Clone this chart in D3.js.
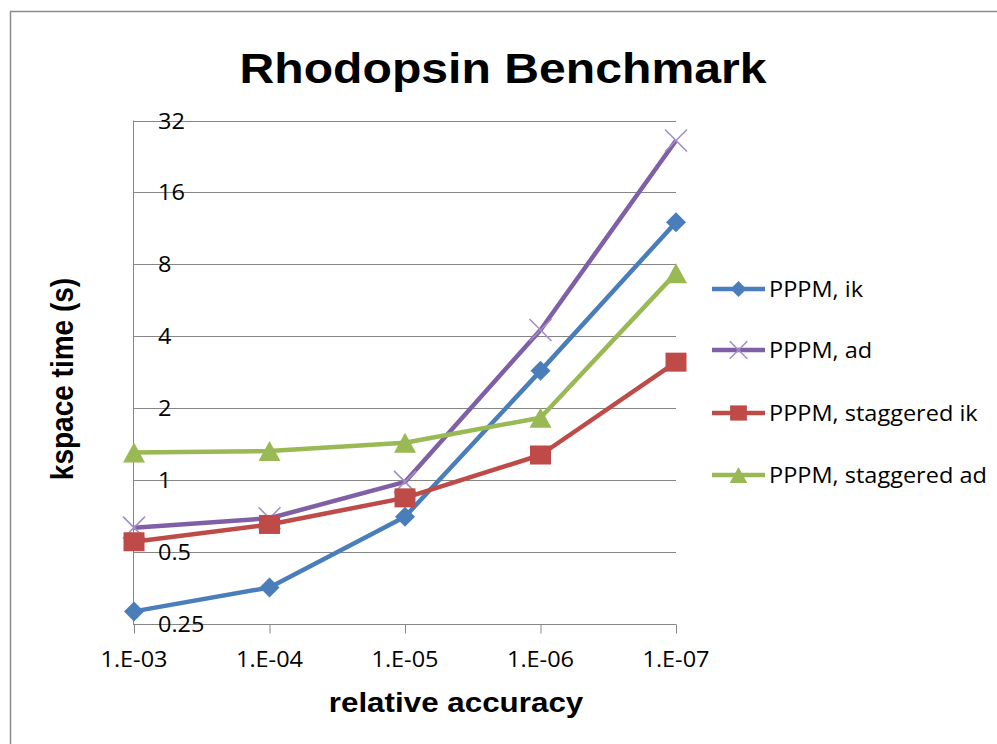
<!DOCTYPE html>
<html><head><meta charset="utf-8">
<script src="https://cdn.jsdelivr.net/npm/d3@7"></script>
<style>html,body{margin:0;padding:0;background:#fff;}svg{display:block;}</style>
</head><body>
<script>
const categories = ["1.E-03","1.E-04","1.E-05","1.E-06","1.E-07"];
const yTicks = [0.25, 0.5, 1, 2, 4, 8, 16, 32];
const seriesNames = ["PPPM, ik","PPPM, ad","PPPM, staggered ik","PPPM, staggered ad"];
const pppmIk = [0.281, 0.354, 0.70, 2.86, 12.0];
const pppmAd = [0.63, 0.69, 0.98, 4.24, 26.4];
const staggeredIk = [0.55, 0.65, 0.84, 1.27, 3.11];
const staggeredAd = [1.30, 1.32, 1.43, 1.82, 7.34];

const colors = ["#4A7EBB","#7F5FA6","#BE4B48","#98B954"];
const markerColors = ["#4A7EBB","#A48FC4","#BE4B48","#98B954"];
const markers = ["diamond","x","square","triangle"];
const series = [pppmIk, pppmAd, staggeredIk, staggeredAd];

const W = 997, H = 744, SX = 1.12;
const svg = d3.select("body").append("svg").attr("width", W).attr("height", H);

svg.append("rect").attr("x",10.5).attr("y",11.5).attr("width",1000).attr("height",800)
  .attr("fill","#fff").attr("stroke","#8c8c8c").attr("stroke-width",1.5);

const x = d3.scalePoint().domain(categories).range([134, 676]);
const y = d3.scaleLog().base(2).domain([0.25, 32]).range([623.5, 120.5]);

function stext(px, py, str, opts) {
  const g = svg.append("g").attr("transform", `translate(${px},${py}) scale(${SX},1)` + (opts.rotate ? ` rotate(${opts.rotate})` : ""));
  return g.append("text").attr("x",0).attr("y",0)
    .attr("text-anchor", opts.anchor || "start")
    .attr("font-family", opts.family)
    .attr("font-size", opts.size)
    .attr("font-weight", opts.weight || "normal")
    .attr("fill", "#000")
    .text(str);
}

// gridlines
svg.append("g").selectAll("line").data(yTicks).join("line")
  .attr("x1", 133).attr("x2", 676)
  .attr("y1", d => Math.round(y(d)) + 0.5).attr("y2", d => Math.round(y(d)) + 0.5)
  .attr("stroke", "#868686").attr("stroke-width", 1);

// y axis line
svg.append("line").attr("x1",133.5).attr("x2",133.5).attr("y1",y(32)).attr("y2",y(0.25)+1)
  .attr("stroke","#868686").attr("stroke-width",1);

// x axis with ticks
const xAxis = d3.axisBottom(x).tickSize(9).tickFormat("");
const gx = svg.append("g").attr("transform", `translate(0,${Math.round(y(0.25))+0.5})`).call(xAxis);
gx.select(".domain").attr("stroke","#868686").attr("d", `M133,0H676`);
gx.selectAll(".tick line").attr("stroke","#868686");

// x tick labels
categories.forEach(c => stext(x(c), 667, c, {anchor:"middle", family:"'Open Sans', sans-serif", size:21}));
// y tick labels (inside plot)
yTicks.forEach(t => stext(158, y(t) + 8, String(t), {anchor:"start", family:"'Open Sans', sans-serif", size:21}));

// marker drawer
function drawMarker(g, type, cx, cy, i, scale) {
  const s = scale || 1;
  if (type === "diamond") {
    const r = 10 * s;
    g.append("path").attr("d", `M${cx},${cy-r}L${cx+r},${cy}L${cx},${cy+r}L${cx-r},${cy}Z`).attr("fill", markerColors[i]);
  } else if (type === "square") {
    const w = 21 * s, h = 19 * s;
    g.append("rect").attr("x", cx - w/2).attr("y", cy - h/2).attr("width", w).attr("height", h).attr("fill", markerColors[i]);
  } else if (type === "triangle") {
    const w = 11 * s, h = 10 * s;
    g.append("path").attr("d", `M${cx},${cy-h}L${cx+w},${cy+h}L${cx-w},${cy+h}Z`).attr("fill", markerColors[i]);
  } else if (type === "x") {
    const r = 11 * s;
    g.append("path").attr("d", `M${cx-r},${cy-r}L${cx+r},${cy+r}M${cx-r},${cy+r}L${cx+r},${cy-r}`)
      .attr("stroke", markerColors[i]).attr("stroke-width", 1.6).attr("fill","none");
  }
}

const line = d3.line().x((d,j) => x(categories[j])).y(d => y(d));
const plot = svg.append("g");
// draw in order: ik, ad, staggered ik, staggered ad
series.forEach((vals, i) => {
  const g = plot.append("g");
  g.append("path").attr("d", line(vals)).attr("fill","none").attr("stroke", colors[i])
    .attr("stroke-width", 4.5).attr("stroke-linejoin","round");
  vals.forEach((v, j) => drawMarker(g, markers[i], x(categories[j]), y(v), i, 1));
});

// legend
const legendY = [289, 350, 413, 475];
seriesNames.forEach((name, i) => {
  const g = svg.append("g");
  g.append("line").attr("x1", 712).attr("x2", 765).attr("y1", legendY[i]).attr("y2", legendY[i])
    .attr("stroke", colors[i]).attr("stroke-width", 4.5);
  drawMarker(g, markers[i], 738.5, legendY[i], i, 0.8);
  stext(769, legendY[i] + 8, name, {anchor:"start", family:"'Open Sans', sans-serif", size:21});
});

// titles
stext(503, 83, "Rhodopsin Benchmark", {anchor:"middle", family:"'Liberation Sans', Arial, sans-serif", size:43, weight:"bold"});
stext(456, 712, "relative accuracy", {anchor:"middle", family:"'Liberation Sans', Arial, sans-serif", size:28, weight:"bold"});
stext(73, 379, "kspace time (s)", {anchor:"middle", family:"'Liberation Sans', Arial, sans-serif", size:28, weight:"bold", rotate:-90});
</script>
</body></html>
